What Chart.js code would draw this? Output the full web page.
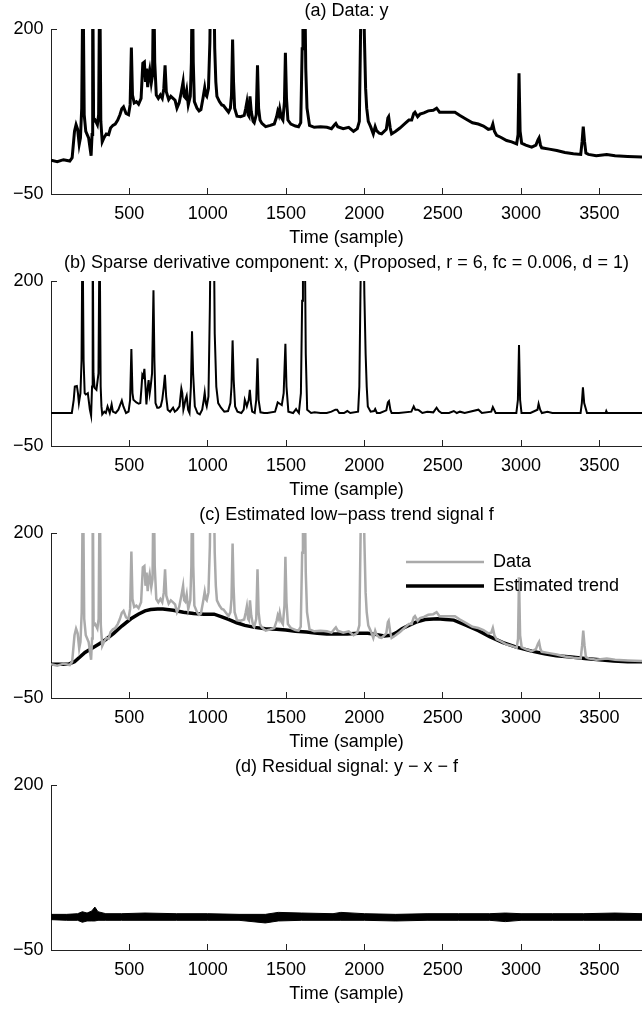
<!DOCTYPE html>
<html>
<head>
<meta charset="utf-8">
<script src="https://cdn.jsdelivr.net/npm/chart.js@4.4.0/dist/chart.umd.min.js"></script>
<style>
  html, body { margin: 0; padding: 0; background: #fff; }
  .panel { position: absolute; left: 0; width: 642px; height: 252px; }
</style>
</head>
<body>
<div class="panel" style="top:0px"><canvas id="chartA" width="642" height="252"></canvas></div>
<div class="panel" style="top:252px"><canvas id="chartB" width="642" height="252"></canvas></div>
<div class="panel" style="top:504px"><canvas id="chartC" width="642" height="252"></canvas></div>
<div class="panel" style="top:756px"><canvas id="chartD" width="642" height="252"></canvas></div>
<script>
// (a) data y
var dataTime = [0,40,80,120,135,150,160,170,180,188,196,204,212,222,240,256,262,266,272,282,296,304,311,318,327,340,353,368,380,395,410,426,440,452,463,479,495,505,513,520,531,545,559,575,586,596,603,610,617,624,630,640,648,655,662,672,685,698,710,720,728,736,751,765,779,792,804,818,832,843,850,857,866,876,889,896,902,908,915,932,945,957,970,981,988,994,1005,1014,1018,1040,1045,1052,1059,1075,1090,1101,1120,1133,1145,1152,1159,1165,1172,1187,1210,1233,1243,1250,1258,1263,1270,1278,1290,1297,1310,1318,1325,1334,1346,1370,1400,1425,1440,1447,1454,1460,1470,1480,1490,1496,1503,1512,1531,1560,1580,1594,1603,1608,1620,1626,1634,1650,1680,1720,1761,1790,1810,1818,1830,1865,1900,1931,1955,1968,1975,1980,1995,2000,2008,2015,2025,2040,2057,2069,2078,2095,2110,2140,2150,2155,2165,2174,2200,2227,2260,2284,2302,2315,2323,2340,2355,2380,2408,2440,2461,2480,2503,2540,2578,2610,2653,2690,2727,2760,2791,2810,2820,2830,2844,2870,2908,2940,2972,2981,2987,2994,3004,3030,3068,3095,3108,3115,3124,3132,3180,3228,3280,3334,3381,3390,3397,3405,3414,3430,3480,3547,3600,3680,3773];
var dataY = [1,-1,2,0,5,45,55,48,25,35,80,290,70,45,35,8,40,290,60,62,55,70,290,60,29,36,41,40,50,54,56,62,70,79,82,72,70,85,172,100,88,90,86,95,148,150,120,140,112,130,138,118,130,290,150,100,95,100,95,110,145,105,93,98,95,92,80,88,105,120,98,96,107,85,98,150,290,150,90,80,76,78,95,111,100,98,110,180,260,260,170,120,98,90,85,84,78,74,80,100,184,120,80,68,67,69,80,89,70,68,98,75,60,58,70,145,80,62,57,52,54,56,67,75,70,79,66,62,90,164,95,62,56,53,52,58,170,260,260,140,80,54,51,52,51,49,55,57,52,49,51,45,49,60,180,270,270,190,110,80,60,52,41,52,46,42,41,48,65,67,50,41,45,50,57,62,62,72,74,67,71,73,76,77,80,74,74,74,74,69,63,58,56,53,48,49,56,45,39,36,31,29,26,40,133,45,27,24,21,24,32,35,24,20,18,16,13,11,10,30,52,30,12,10,8,10,8,7,6];

// (b) sparse derivative component x
var sparseTime = [0,133,145,152,165,172,178,188,195,201,208,215,222,235,248,256,262,266,271,278,290,303,310,317,322,327,340,350,361,368,375,387,395,413,430,452,462,479,495,505,513,520,526,545,560,570,578,583,590,596,603,609,616,623,630,636,645,654,660,667,678,688,700,710,720,727,735,745,760,779,790,805,820,832,838,845,850,858,866,875,884,893,900,907,918,935,950,965,975,981,988,994,1005,1014,1018,1040,1045,1055,1067,1085,1106,1130,1145,1152,1159,1166,1175,1190,1215,1230,1237,1244,1250,1256,1262,1269,1276,1284,1300,1310,1318,1325,1337,1360,1381,1430,1440,1447,1460,1473,1485,1496,1503,1515,1545,1564,1572,1582,1595,1603,1608,1620,1626,1635,1660,1682,1720,1760,1790,1815,1826,1840,1870,1891,1910,1960,1968,1975,1980,1995,2000,2008,2015,2022,2040,2062,2069,2080,2100,2140,2150,2157,2166,2174,2220,2300,2315,2325,2340,2349,2370,2401,2440,2461,2475,2493,2540,2571,2590,2610,2640,2728,2750,2810,2820,2838,2900,2970,2980,2987,2994,3003,3060,3105,3112,3122,3133,3168,3200,3380,3388,3395,3403,3421,3540,3544,3550,3773];
var sparseX = [0,0,20,40,41,30,15,30,80,290,80,30,28,30,5,-4,40,290,60,38,35,60,290,40,10,-2,2,0,10,5,0,13,2,0,5,19,10,0,2,20,97,30,20,16,14,15,40,58,55,67,40,13,35,50,30,40,60,186,80,15,8,8,10,20,40,58,25,5,2,8,2,5,10,37,30,5,10,20,26,5,0,40,124,60,10,0,-2,5,20,31,15,10,25,160,260,260,120,40,15,8,2,3,15,40,110,50,10,2,0,5,20,15,10,15,20,35,15,2,0,20,83,20,1,0,0,2,10,16,14,12,30,105,40,2,0,6,3,0,30,170,260,260,90,5,0,1,0,0,2,5,5,0,0,3,0,2,40,180,270,270,180,90,40,10,2,3,6,0,0,4,16,18,5,0,0,2,10,5,5,4,0,2,1,8,3,0,0,3,0,2,0,5,0,2,9,0,0,0,20,103,20,0,0,5,14,5,0,2,0,0,15,39,15,0,0,3,0,0];

// (c) estimated low-pass trend f
var trendTime = [0,110,150,217,280,335,400,452,510,557,600,636,680,714,780,845,910,976,1041,1090,1133,1185,1237,1300,1368,1440,1499,1560,1630,1700,1760,1891,1960,2022,2080,2127,2170,2205,2240,2284,2330,2388,2467,2520,2571,2640,2728,2800,2885,2970,3068,3150,3225,3320,3408,3500,3591,3680,3773];
var trendF = [1,1,5,19,28,36,48,59,70,77,82,84,85,85,83,80,78,77,77,73,69,64,60,57,55,54,53,51,50,48,47,47,48,48,46,44,45,49,55,60,65,69,70,69,68,61,52,43,34,27,21,17,14,12,10,8,6,5,5];

// (d) residual y - x - f, upper and lower edge of the noise band
var residTime = [0,100,170,200,230,260,280,300,350,450,600,800,1000,1200,1368,1450,1600,1800,1850,2000,2200,2400,2600,2800,2900,3000,3200,3400,3600,3773];
var residUpper = [4,4,5,8,6,9,15,8,5,5,6,5,5,4,4,7,6,5,7,5,4,5,5,5,6,5,5,5,6,5];
var residLower = [-4,-5,-5,-8,-6,-6,-6,-5,-5,-5,-5,-5,-5,-5,-9,-6,-5,-5,-5,-5,-6,-5,-5,-5,-7,-5,-5,-5,-5,-5];

var xTickValues = [500, 1000, 1500, 2000, 2500, 3000, 3500];
var yTickValues = [-50, 200];
var yTickLabels = ['\u221250', '200'];

Chart.defaults.font.family = '"Liberation Sans", Arial, Helvetica, sans-serif';
Chart.defaults.font.size = 18;
Chart.defaults.color = '#000';

function toPoints(ts, vs){
    var pts = [];
    for(let i=0; i<ts.length; i++){
        pts.push({x: ts[i], y: vs[i]});
    }
    return pts;
}

function makeOptions(titleText){
    return {
        responsive: false,
        animation: false,
        devicePixelRatio: 1,
        layout: { padding: 0 },
        elements: { point: { radius: 0 }, line: { tension: 0 } },
        plugins: {
            legend: { display: false },
            tooltip: { enabled: false },
            title: {
                display: true,
                text: titleText,
                fullSize: false,
                font: { size: 18, weight: 'normal' },
                padding: { top: 0, bottom: 7.4 }
            }
        },
        scales: {
            x: {
                type: 'linear', min: 0, max: 3772,
                afterBuildTicks: function(scale){
                    scale.ticks = xTickValues.map(function(v){ return {value: v}; });
                },
                afterFit: function(scale){ scale.height = 58; },
                ticks: {
                    callback: function(v){ return String(v); },
                    padding: 15, maxRotation: 0, autoSkip: false
                },
                grid: { drawOnChartArea: false, drawTicks: true, tickLength: -6, color: '#222' },
                border: { display: true, color: '#222', width: 1 },
                title: { display: true, text: 'Time (sample)', padding: { top: 0, bottom: 3 } }
            },
            y: {
                type: 'linear', min: -50, max: 200,
                afterBuildTicks: function(scale){
                    scale.ticks = yTickValues.map(function(v){ return {value: v}; });
                },
                afterFit: function(scale){ scale.width = 51; },
                ticks: {
                    callback: function(v){ return yTickLabels[yTickValues.indexOf(v)]; },
                    padding: 13.5
                },
                grid: { drawOnChartArea: false, drawTicks: true, tickLength: -6, color: '#222' },
                border: { display: true, color: '#222', width: 1 }
            }
        }
    };
}

// legend drawn inside the plot of panel (c)
var insideLegend = {
    id: 'insideLegend',
    afterDraw: function(chart){
        var ctx = chart.ctx;
        chart.data.datasets.forEach(function(ds, i){
            var y = 58 + i * 24;
            ctx.save();
            ctx.strokeStyle = ds.borderColor;
            ctx.lineWidth = ds.borderWidth;
            ctx.beginPath();
            ctx.moveTo(406, y);
            ctx.lineTo(484, y);
            ctx.stroke();
            ctx.fillStyle = '#000';
            ctx.font = '18px "Liberation Sans", Arial, sans-serif';
            ctx.textBaseline = 'middle';
            ctx.fillText(ds.label, 493, y);
            ctx.restore();
        });
    }
};

new Chart(document.getElementById('chartA'), {
    type: 'line',
    data: { datasets: [{
        label: 'Data', data: toPoints(dataTime, dataY),
        borderColor: '#000', borderWidth: 3, clip: 0
    }]},
    options: makeOptions('(a) Data: y')
});

new Chart(document.getElementById('chartB'), {
    type: 'line',
    data: { datasets: [{
        label: 'x', data: toPoints(sparseTime, sparseX),
        borderColor: '#000', borderWidth: 2, clip: 0
    }]},
    options: makeOptions('(b) Sparse derivative component: x, (Proposed, r = 6, fc = 0.006, d = 1)')
});

new Chart(document.getElementById('chartC'), {
    type: 'line',
    data: { datasets: [{
        label: 'Data', data: toPoints(dataTime, dataY),
        borderColor: '#aaaaaa', borderWidth: 2.5, clip: 0
    }, {
        label: 'Estimated trend', data: toPoints(trendTime, trendF),
        borderColor: '#000', borderWidth: 3.5, clip: 0
    }]},
    options: makeOptions('(c) Estimated low\u2212pass trend signal f'),
    plugins: [insideLegend]
});

new Chart(document.getElementById('chartD'), {
    type: 'line',
    data: { datasets: [{
        label: 'upper', data: toPoints(residTime, residUpper),
        borderColor: '#000', borderWidth: 1, fill: false, clip: 0
    }, {
        label: 'lower', data: toPoints(residTime, residLower),
        borderColor: '#000', borderWidth: 1, fill: '-1', backgroundColor: '#000', clip: 0
    }]},
    options: makeOptions('(d) Residual signal: y \u2212 x \u2212 f')
});
</script>
</body>
</html>
